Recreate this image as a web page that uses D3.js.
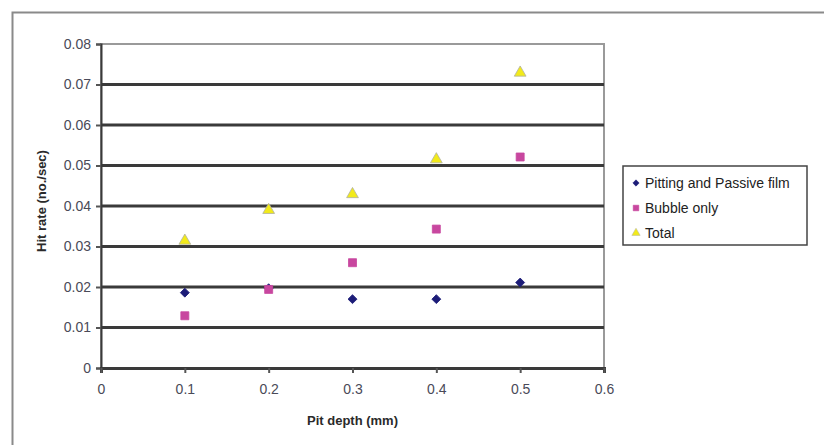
<!DOCTYPE html>
<html>
<head>
<meta charset="utf-8">
<script src="https://cdn.jsdelivr.net/npm/d3@7"></script>
<style>
  html, body { margin: 0; padding: 0; background: #fff; }
  svg { display: block; }
  text { font-family: "Liberation Sans", Arial, sans-serif; }
</style>
</head>
<body>
<svg id="chart" width="824" height="445"></svg>
<script>
// Pit depth (mm)
const depths = [0.1, 0.2, 0.3, 0.4, 0.5];
// Hit rate (no./sec) per series
const pittingValues = [0.0186, 0.0197, 0.0170, 0.0170, 0.0211];
const bubbleValues  = [0.0129, 0.0194, 0.0260, 0.0343, 0.0521];
const totalValues   = [0.0314, 0.0390, 0.0429, 0.0515, 0.0729];
const seriesNames = ["Pitting and Passive film", "Bubble only", "Total"];
const xTicks = [0, 0.1, 0.2, 0.3, 0.4, 0.5, 0.6];
const yTicks = [0, 0.01, 0.02, 0.03, 0.04, 0.05, 0.06, 0.07, 0.08];

const svg = d3.select("#chart");
const plotL = 101, plotR = 604, plotT = 44, plotB = 368;

const x = d3.scaleLinear().domain([0, 0.6]).range([plotL, plotR]);
const y = d3.scaleLinear().domain([0, 0.08]).range([plotB, plotT]);

// outer frame
svg.append("path")
  .attr("d", `M12.5,445 V12.5 H824`)
  .attr("fill", "none").attr("stroke", "#8a8a8a").attr("stroke-width", 2);

// plot area border
svg.append("rect")
  .attr("x", plotL).attr("y", plotT)
  .attr("width", plotR - plotL).attr("height", plotB - plotT)
  .attr("fill", "none").attr("stroke", "#9a9a9a").attr("stroke-width", 2);

// gridlines
svg.append("g").selectAll("line")
  .data(yTicks.filter(v => v > 0 && v < 0.08))
  .join("line")
  .attr("x1", plotL).attr("x2", plotR)
  .attr("y1", d => y(d)).attr("y2", d => y(d))
  .attr("stroke", "#3a3a3a").attr("stroke-width", 3);

// y axis
const yAxis = svg.append("g")
  .attr("transform", `translate(${plotL},0)`)
  .call(d3.axisLeft(y).tickValues(yTicks).tickSize(5).tickPadding(5)
    .tickFormat(d => d === 0 ? "0" : d3.format(".2f")(d)));
yAxis.select(".domain").attr("stroke", "#3a3a3a").attr("stroke-width", 2);
yAxis.selectAll(".tick line").attr("stroke", "#555").attr("stroke-width", 2);
yAxis.selectAll(".tick text")
  .attr("font-size", 14).attr("fill", "#4a4a58");

// x axis
const xAxis = svg.append("g")
  .attr("transform", `translate(0,${plotB})`)
  .call(d3.axisBottom(x).tickValues(xTicks).tickSize(5).tickPadding(11)
    .tickFormat(d => d === 0 ? "0" : d3.format(".1f")(d)));
xAxis.select(".domain").attr("stroke", "#3a3a3a").attr("stroke-width", 3);
xAxis.selectAll(".tick line").attr("stroke", "#555").attr("stroke-width", 2);
xAxis.selectAll(".tick text")
  .attr("font-size", 14).attr("fill", "#4a4a58");

// axis titles
svg.append("text")
  .attr("x", x(0.3)).attr("y", 425)
  .attr("text-anchor", "middle")
  .attr("font-size", 13).attr("font-weight", "bold").attr("fill", "#2a2a2a")
  .text("Pit depth (mm)");
svg.append("text")
  .attr("transform", `translate(46,201) rotate(-90)`)
  .attr("text-anchor", "middle")
  .attr("font-size", 13).attr("font-weight", "bold").attr("fill", "#2a2a2a")
  .text("Hit rate (no./sec)");

// marker styles per series (diamond = square turned 45°)
const styles = [
  { values: pittingValues, type: d3.symbolSquare, rot: 45, size: 40, fill: "#1c1c78", stroke: "#1c1c78" },
  { values: bubbleValues, type: d3.symbolSquare, rot: 0, size: 64, fill: "#c8479f", stroke: "#c8479f" },
  { values: totalValues, type: d3.symbolTriangle, rot: 0, size: 60, fill: "#f2ea1a", stroke: "#b0b0a0" }
];

styles.forEach(s => {
  svg.append("g").selectAll("path")
    .data(depths.map((d, j) => [d, s.values[j]]))
    .join("path")
    .attr("transform", d => `translate(${x(d[0])},${y(d[1])}) rotate(${s.rot})`)
    .attr("d", d3.symbol().type(s.type).size(s.size))
    .attr("fill", s.fill).attr("stroke", s.stroke).attr("stroke-width", 0.8);
});

// legend
const lg = svg.append("g").attr("transform", "translate(623,166)");
lg.append("rect").attr("width", 184).attr("height", 79)
  .attr("fill", "#fff").attr("stroke", "#444").attr("stroke-width", 1.5);
seriesNames.forEach((name, i) => {
  const s = styles[i];
  const cy = 17 + i * 25;
  lg.append("path")
    .attr("transform", `translate(13,${cy}) rotate(${s.rot})`)
    .attr("d", d3.symbol().type(s.type).size(s.size * 0.5))
    .attr("fill", s.fill).attr("stroke", s.stroke).attr("stroke-width", 0.5);
  lg.append("text").attr("x", 22).attr("y", cy + 5)
    .attr("font-size", 14).attr("fill", "#222").text(name);
});
</script>
</body>
</html>
